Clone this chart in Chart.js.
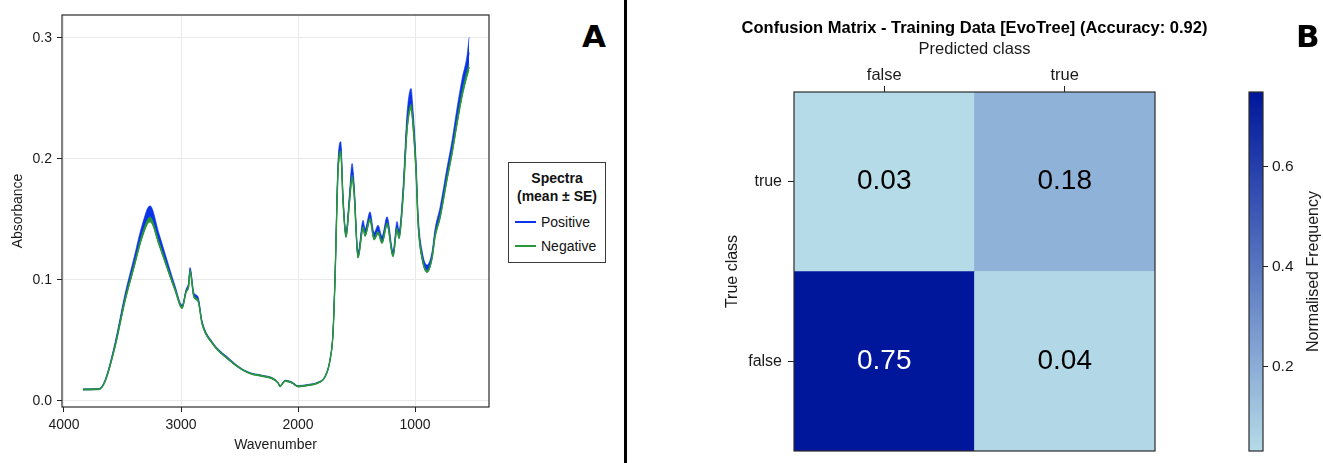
<!DOCTYPE html>
<html>
<head>
<meta charset="utf-8">
<title>Spectra and confusion matrix</title>
<script src="https://cdn.jsdelivr.net/npm/chart.js@4.4.1/dist/chart.umd.min.js"></script>
<style>
    body { margin: 0; background: #fff; font-family: "Liberation Sans", Arial, Helvetica, sans-serif; }
    #figure { position: relative; width: 1323px; height: 463px; overflow: hidden; background: #fff; }
    canvas { position: absolute; top: 0; }
    #spectra { left: 0; }
    #confusion { left: 630px; }
    #colorbar { left: 1200px; }
    .divider { position: absolute; left: 624px; top: 0; width: 3px; height: 463px; background: #000; }
    .panel-tag { position: absolute; font-family: "DejaVu Sans", sans-serif; font-weight: bold; font-size: 31px; line-height: 31px; color: #000; }
    #legend { position: absolute; left: 508px; top: 162px; width: 96px; border: 1px solid #3a3a3a; background: #fff; padding: 6px 0 4px 0; font-size: 14px; color: #111; }
    #legend .head { text-align: center; font-weight: bold; line-height: 18px; }
    #legend .head + .item { margin-top: 5px; }
    #legend .item { height: 24px; line-height: 24px; display: flex; align-items: center; }
    #legend .swatch { display: inline-block; width: 21px; height: 1.5px; margin: 0 5px 0 6px; }
</style>
</head>
<body>
<div id="figure">
    <canvas id="spectra" width="500" height="463"></canvas>
    <canvas id="confusion" width="689" height="463"></canvas>
    <canvas id="colorbar" width="123" height="463"></canvas>
    <div class="divider"></div>
    <div class="panel-tag" style="left:582px; top:21px;">A</div>
    <div class="panel-tag" style="left:1296px; top:21px;">B</div>
    <div id="legend"></div>
</div>
<script>
/*
    * data : spectra (panel A)
*/
const wavenumber = [3838, 3700, 3650, 3564, 3479, 3402, 3333, 3265, 3188, 3103, 3051, 2991, 2957, 2935, 2923, 2889, 2855, 2820, 2735, 2590,
    2479, 2385, 2325, 2171, 2154, 2111, 2051, 2000, 1915, 1829, 1769, 1726, 1701, 1684, 1658, 1635, 1615, 1590, 1560, 1538,
    1521, 1487, 1444, 1427, 1385, 1350, 1316, 1282, 1239, 1188, 1154, 1137, 1103, 1068, 1034, 1017, 991, 974, 940, 897,
    855, 829, 786, 726, 684, 641, 598, 556, 538];

const positiveMean = [0.0095, 0.0099, 0.0165, 0.0465, 0.0855, 0.1145, 0.1405, 0.1555, 0.134, 0.1085, 0.0935, 0.078, 0.091, 0.0965, 0.1085, 0.0875, 0.0845, 0.065, 0.0485, 0.0345,
    0.0262, 0.0222, 0.0212, 0.0152, 0.0122, 0.0167, 0.0152, 0.0122, 0.0132, 0.0152, 0.0202, 0.0345, 0.0565, 0.102, 0.194, 0.2095, 0.167, 0.138, 0.1685, 0.1905,
    0.176, 0.121, 0.146, 0.1395, 0.153, 0.1365, 0.142, 0.1335, 0.149, 0.122, 0.145, 0.138, 0.172, 0.2315, 0.2505, 0.234, 0.193, 0.151, 0.121, 0.1095,
    0.1205, 0.139, 0.156, 0.1885, 0.21, 0.236, 0.2595, 0.2775, 0.288];

const positiveSE = [0.0005, 0.0005, 0.0008, 0.0018, 0.0028, 0.0038, 0.0048, 0.0058, 0.0043, 0.0028, 0.0018, 0.0013, 0.0013, 0.0018, 0.0018, 0.0018, 0.0018, 0.0013, 0.0008, 0.0008,
    0.0005, 0.0005, 0.0005, 0.0005, 0.0005, 0.0005, 0.0005, 0.0005, 0.0005, 0.0005, 0.0005, 0.0008, 0.0008, 0.0023, 0.0043, 0.0048, 0.003, 0.0023, 0.0038, 0.0058,
    0.0043, 0.0023, 0.0033, 0.0028, 0.0033, 0.0028, 0.0033, 0.0028, 0.0033, 0.0023, 0.0033, 0.0033, 0.0043, 0.0068, 0.0078, 0.0063, 0.0053, 0.0043, 0.0033, 0.0028,
    0.0028, 0.0033, 0.0043, 0.0048, 0.0053, 0.0063, 0.0068, 0.0078, 0.0125];

const negativeMean = [0.0095, 0.0098, 0.016, 0.045, 0.083, 0.111, 0.136, 0.150, 0.130, 0.106, 0.092, 0.077, 0.090, 0.095, 0.107, 0.086, 0.083, 0.064, 0.048, 0.034,
    0.026, 0.022, 0.021, 0.015, 0.012, 0.0165, 0.015, 0.012, 0.013, 0.015, 0.020, 0.034, 0.056, 0.100, 0.190, 0.205, 0.164, 0.136, 0.165, 0.185,
    0.172, 0.119, 0.143, 0.137, 0.150, 0.134, 0.139, 0.131, 0.146, 0.120, 0.142, 0.135, 0.168, 0.225, 0.243, 0.228, 0.188, 0.147, 0.118, 0.107,
    0.118, 0.136, 0.152, 0.184, 0.205, 0.230, 0.253, 0.270, 0.276];

const negativeSE = [0.0004, 0.0004, 0.0005, 0.0008, 0.0012, 0.0015, 0.0018, 0.0020, 0.0016, 0.0012, 0.0010, 0.0008, 0.0008, 0.0009, 0.0010, 0.0009, 0.0009, 0.0007, 0.0006, 0.0005,
    0.0004, 0.0004, 0.0004, 0.0004, 0.0004, 0.0004, 0.0004, 0.0004, 0.0004, 0.0004, 0.0004, 0.0005, 0.0006, 0.0010, 0.0016, 0.0018, 0.0014, 0.0010, 0.0014, 0.0018,
    0.0015, 0.0010, 0.0012, 0.0011, 0.0012, 0.0011, 0.0012, 0.0011, 0.0012, 0.0010, 0.0012, 0.0012, 0.0015, 0.0020, 0.0022, 0.0020, 0.0017, 0.0014, 0.0011, 0.0010,
    0.0011, 0.0012, 0.0014, 0.0016, 0.0018, 0.0020, 0.0022, 0.0024, 0.0026];

const seriesNames = ['Positive', 'Negative'];
const seriesColors = ['#0b34e8', '#2b963a'];
const wavenumberTicks = [1000, 2000, 3000, 4000];
const absorbanceTicks = [0, 0.1, 0.2, 0.3];

/*
    * data : confusion matrix (panel B)
*/
const predictedClasses = ['false', 'true'];
const trueClasses = ['false', 'true'];          // bottom row first
const confusion = [
    [0.75, 0.04],   // true class = false
    [0.03, 0.18]    // true class = true
];
const colorbarTicks = [0.2, 0.4, 0.6];
const matrixTitle = 'Confusion Matrix - Training Data [EvoTree] (Accuracy: 0.92)';

Chart.defaults.font.family = '"Liberation Sans", Arial, Helvetica, sans-serif';
Chart.defaults.color = '#1a1a1a';

// cadre autour de la zone de tracé
const frame = {
    id: 'frame',
    afterDraw(chart) {
        const { ctx, chartArea: a } = chart;
        ctx.save();
        ctx.strokeStyle = '#2b2b2b';
        ctx.lineWidth = 1.2;
        ctx.strokeRect(a.left, a.top, a.right - a.left, a.bottom - a.top);
        ctx.restore();
    }
};

// pas de marge automatique pour les labels des extremites
function noLabelPadding(s) {
    s.paddingTop = 0;
    s.paddingBottom = 0;
}

function points(values, se, sign) {
    return wavenumber.map((w, i) => ({ x: w, y: values[i] + sign * (se ? se[i] : 0) }));
}

/*
    * panel A : spectra (Negative drawn on top of Positive)
*/
const spectraDatasets = [];
[[1, negativeMean, negativeSE], [0, positiveMean, positiveSE]].forEach(([s, mean, se]) => {
    const color = seriesColors[s];
    spectraDatasets.push(
        { label: seriesNames[s], data: points(mean, null, 0), borderColor: color, borderWidth: s === 1 ? 1.4 : 1, fill: false },
        { label: seriesNames[s] + ' +SE', data: points(mean, se, 1), borderColor: color, borderWidth: 0.6, backgroundColor: color, fill: false },
        { label: seriesNames[s] + ' -SE', data: points(mean, se, -1), borderColor: color, borderWidth: 0.6, backgroundColor: color, fill: '-1' }
    );
});

new Chart(document.getElementById('spectra'), {
    type: 'line',
    data: { datasets: spectraDatasets },
    options: {
        responsive: false,
        animation: false,
        events: [],
        layout: { padding: { left: 6, top: 15, right: 11, bottom: 0 } },
        elements: { point: { radius: 0 }, line: { cubicInterpolationMode: 'monotone' } },
        plugins: { legend: { display: false }, tooltip: { enabled: false } },
        scales: {
            x: {
                type: 'linear',
                reverse: true,
                min: 368,
                max: 4017,
                afterBuildTicks: (s) => { s.ticks = wavenumberTicks.map(v => ({ value: v })); },
                afterFit: (s) => { s.height = 56; },
                grid: { color: '#e9e9e9', tickColor: '#222', tickLength: 5 },
                border: { display: false },
                ticks: { padding: 5, font: { size: 14 }, color: '#1a1a1a', maxRotation: 0, callback: v => String(v) },
                title: { display: true, text: 'Wavenumber', font: { size: 14 }, color: '#1a1a1a', padding: { top: 0, bottom: 9 } }
            },
            y: {
                min: -0.005,
                max: 0.319,
                afterBuildTicks: (s) => { s.ticks = absorbanceTicks.map(v => ({ value: v })); },
                afterFit: (s) => { s.width = 56; noLabelPadding(s); },
                grid: { color: '#e9e9e9', tickColor: '#222', tickLength: 5 },
                border: { display: false },
                ticks: { padding: 5, font: { size: 14 }, color: '#1a1a1a', callback: v => v.toFixed(1) },
                title: { display: true, text: 'Absorbance', font: { size: 14 }, color: '#1a1a1a', padding: { top: 4, bottom: 0 } }
            }
        }
    },
    plugins: [frame]
});

// légende HTML
const legend = document.getElementById('legend');
legend.innerHTML = `<div class="head">Spectra</div><div class="head">(mean ± SE)</div>` +
    seriesNames.map((name, i) => `<div class="item"><span class="swatch" style="background:${seriesColors[i]}"></span>${name}</div>`).join('');

/*
    * panel B : confusion matrix
*/
const allValues = confusion.flat();
const cMin = Math.min(...allValues);
const cMax = Math.max(...allValues);
const lowColor = [181, 219, 232];
const highColor = [0, 22, 155];

function colourFor(v) {
    const t = (v - cMin) / (cMax - cMin);
    const c = lowColor.map((l, i) => Math.round(l + (highColor[i] - l) * t));
    return `rgb(${c.join(',')})`;
}

const cellLabels = {
    id: 'cellLabels',
    afterDatasetsDraw(chart) {
        const ctx = chart.ctx;
        ctx.save();
        ctx.font = '28px "Liberation Sans", Arial, sans-serif';
        ctx.textAlign = 'center';
        ctx.textBaseline = 'middle';
        chart.data.datasets.forEach((ds, r) => {
            chart.getDatasetMeta(r).data.forEach((bar, c) => {
                const v = confusion[r][c];
                ctx.fillStyle = v > 0.5 ? '#ffffff' : '#000000';
                ctx.fillText(v.toFixed(2), bar.x, (bar.y + bar.base) / 2);
            });
        });
        ctx.restore();
    }
};

const matrixHeading = {
    id: 'matrixHeading',
    afterDraw(chart) {
        const { ctx, chartArea: a } = chart;
        ctx.save();
        ctx.font = 'bold 16.5px "Liberation Sans", Arial, sans-serif';
        ctx.fillStyle = '#000';
        ctx.textAlign = 'center';
        ctx.textBaseline = 'middle';
        ctx.fillText(matrixTitle, (a.left + a.right) / 2, 28);
        ctx.restore();
    }
};

new Chart(document.getElementById('confusion'), {
    type: 'bar',
    data: {
        labels: predictedClasses,
        datasets: trueClasses.map((cls, r) => ({
            label: cls,
            data: predictedClasses.map(() => 1),
            backgroundColor: confusion[r].map(colourFor),
            borderWidth: 0,
            barPercentage: 1,
            categoryPercentage: 1
        }))
    },
    options: {
        responsive: false,
        animation: false,
        events: [],
        layout: { padding: { left: 90, right: 164, top: 37.8, bottom: 12 } },
        plugins: { legend: { display: false }, tooltip: { enabled: false } },
        scales: {
            x: {
                position: 'top',
                stacked: true,
                offset: true,
                afterFit: (s) => { s.height = 54.2; },
                grid: { offset: false, drawOnChartArea: false, tickColor: '#222', tickLength: 6 },
                border: { display: false },
                ticks: { padding: 1, font: { size: 16.5 }, color: '#1a1a1a' },
                title: { display: true, text: 'Predicted class', font: { size: 16.5 }, color: '#1a1a1a', padding: { top: 2, bottom: 0 } }
            },
            y: {
                stacked: true,
                min: 0,
                max: trueClasses.length,
                afterBuildTicks: (s) => { s.ticks = trueClasses.map((c, i) => ({ value: i + 0.5 })); },
                afterFit: (s) => { s.width = 74; noLabelPadding(s); },
                grid: { drawOnChartArea: false, tickColor: '#222', tickLength: 6 },
                border: { display: false },
                ticks: { padding: 6, font: { size: 16 }, color: '#1a1a1a', callback: v => trueClasses[Math.floor(v)] },
                title: { display: true, text: 'True class', font: { size: 16 }, color: '#1a1a1a', padding: { top: 3, bottom: 0 } }
            }
        }
    },
    plugins: [frame, cellLabels, matrixHeading]
});

/*
    * colorbar
*/
const colorbarTitle = {
    id: 'colorbarTitle',
    afterDraw(chart) {
        const { ctx, chartArea: a } = chart;
        ctx.save();
        ctx.translate(chart.scales.y.right - 9, (a.top + a.bottom) / 2);
        ctx.rotate(-Math.PI / 2);
        ctx.font = '16px "Liberation Sans", Arial, sans-serif';
        ctx.fillStyle = '#1a1a1a';
        ctx.textAlign = 'center';
        ctx.textBaseline = 'middle';
        ctx.fillText('Normalised Frequency', 0, 0);
        ctx.restore();
    }
};

new Chart(document.getElementById('colorbar'), {
    type: 'bar',
    data: {
        labels: [''],
        datasets: [{
            data: [[cMin, cMax]],
            borderWidth: 0,
            barPercentage: 1,
            categoryPercentage: 1,
            backgroundColor: (c) => {
                const chart = c.chart;
                if (!chart.chartArea) return colourFor(cMin);
                const y = chart.scales.y;
                const g = chart.ctx.createLinearGradient(0, y.getPixelForValue(cMin), 0, y.getPixelForValue(cMax));
                g.addColorStop(0, colourFor(cMin));
                g.addColorStop(1, colourFor(cMax));
                return g;
            }
        }]
    },
    options: {
        responsive: false,
        animation: false,
        events: [],
        layout: { padding: { left: 49, right: 0, top: 92, bottom: 12 } },
        plugins: { legend: { display: false }, tooltip: { enabled: false } },
        scales: {
            x: { display: false },
            y: {
                position: 'right',
                min: cMin,
                max: cMax,
                afterBuildTicks: (s) => { s.ticks = colorbarTicks.map(v => ({ value: v })); },
                afterFit: (s) => { s.width = 60; noLabelPadding(s); },
                grid: { drawOnChartArea: false, tickColor: '#222', tickLength: 5 },
                border: { display: false },
                ticks: { padding: 4, font: { size: 15.5 }, color: '#1a1a1a', callback: v => v.toFixed(1) }
            }
        }
    },
    plugins: [frame, colorbarTitle]
});
</script>
</body>
</html>
